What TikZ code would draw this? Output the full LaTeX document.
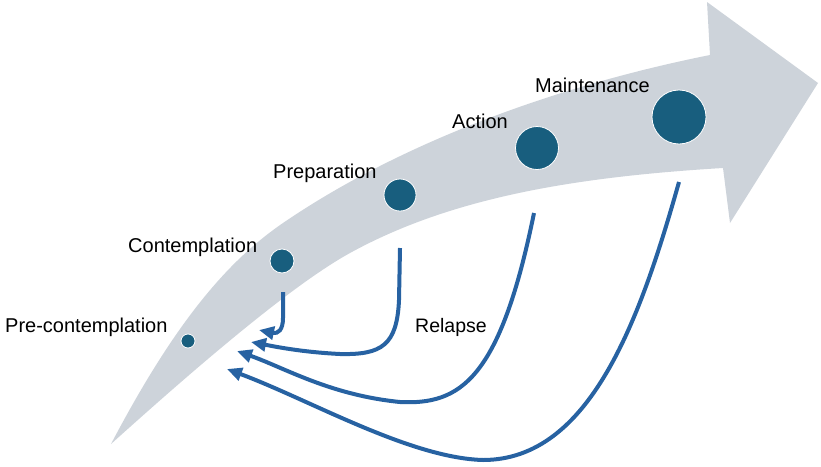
\documentclass[tikz,border=0pt]{standalone}
\usepackage{fontspec}
\setmainfont{Liberation Sans}
\usetikzlibrary{arrows.meta}
\definecolor{bandgray}{HTML}{CDD3DA}
\definecolor{stageteal}{HTML}{185E7E}
\definecolor{relapseblue}{HTML}{2762A2}
\begin{document}
\begin{tikzpicture}[x=1pt,y=-1pt,
  stage/.style={circle,fill=stageteal,draw=white,line width=0.8pt,inner sep=0pt},
  lbl/.style={anchor=base west,inner sep=0pt,text=black,font=\fontsize{20}{24}\selectfont},
  relapse/.style={relapseblue,line width=4pt,-{Triangle[length=15pt,width=13pt]}}]
  \useasboundingbox (0,0) rectangle (821,466);
  % big gray arrow
  \fill[bandgray] (111,444) .. controls (171,330) and (223,264) .. (283,223)
    .. controls (403,141) and (560,85) .. (710,55) -- (707,2) -- (818,83) -- (730,223) -- (723,168)
    .. controls (573,177) and (450,198) .. (350,253)
    .. controls (290,286) and (191,372) .. cycle;
  \node[stage,minimum size=14pt] (pre) at (188,341) {};
  \node[stage,minimum size=24pt] (cont) at (282,261) {};
  \node[stage,minimum size=32pt] (prep) at (400,195) {};
  \node[stage,minimum size=43pt] (act) at (537,148) {};
  \node[stage,minimum size=54pt] (maint) at (679,117) {};
  \node[lbl] (prelbl) at (5,332) {Pre-contemplation};
  \node[lbl] (contlbl) at (128,252) {Contemplation};
  \node[lbl] (preplbl) at (273,178) {Preparation};
  \node[lbl] (actlbl) at (452,128) {Action};
  \node[lbl] (maintlbl) at (535,92) {Maintenance};
  \node[lbl,font=\fontsize{19.5}{24}\selectfont] (relapselbl) at (415,332) {Relapse};
  \coordinate (s1) at (283,292); \coordinate (e1) at (259,330);
  \coordinate (s2) at (400,248); \coordinate (e2) at (251,342);
  \coordinate (s3) at (534,213); \coordinate (e3) at (237,351);
  \coordinate (s4) at (679,182); \coordinate (e4) at (227,369);
  \draw[relapse] (s1) -- (283,318) .. controls (283,330) and (278,334) .. (e1);
  \draw[relapse] (s2) -- (399,300) .. controls (397,345) and (382,355) .. (340,354) .. controls (300,352) and (272,346) .. (e2);
  \draw[relapse] (s3) .. controls (500,380) and (460,405) .. (400,402) .. controls (330,395) and (285,368) .. (e3);
  \draw[relapse] (s4) .. controls (640,320) and (590,460) .. (483,460) .. controls (410,458) and (310,400) .. (e4);
\end{tikzpicture}
\end{document}
